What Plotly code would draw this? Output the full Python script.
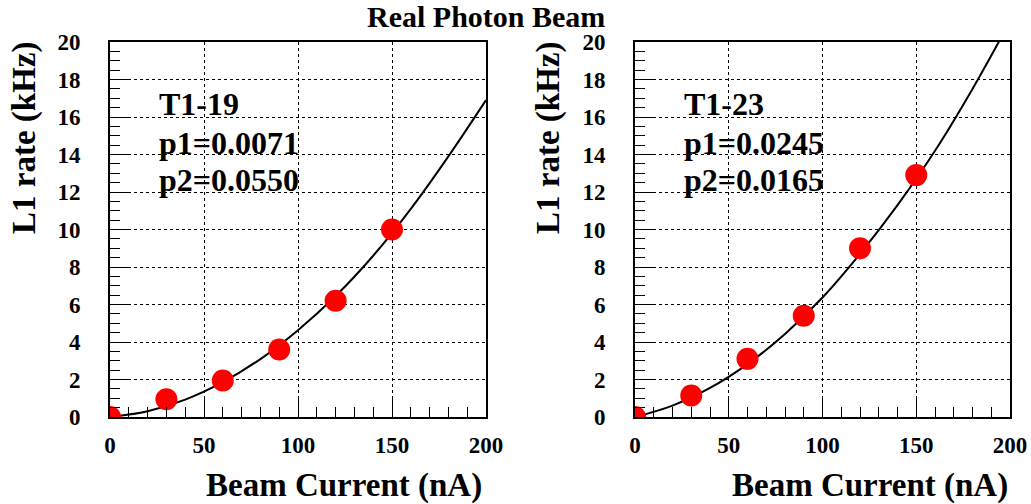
import plotly.graph_objects as go

# ---- data ----
beam_current = [0, 30, 60, 90, 120, 150]
rate_t1_19 = [0.0, 0.95, 1.95, 3.6, 6.2, 10.0]
rate_t1_23 = [0.0, 1.15, 3.1, 5.4, 9.0, 12.9]

fit_x = [0, 20, 40, 60, 80, 100, 120, 140, 160, 180, 200]
fit_t1_19 = [0, 0.31, 0.93, 1.86, 3.09, 4.63, 6.45, 8.6, 11.1, 13.9, 16.9]
fit_t1_23 = [0, 0.61, 1.55, 2.82, 4.43, 6.37, 8.7, 11.3, 14.2, 17.5, 21.1]

labels_t1_19 = ["T1-19", "p1=0.0071", "p2=0.0550"]
labels_t1_23 = ["T1-23", "p1=0.0245", "p2=0.0165"]

title_text = "Real Photon Beam"
x_title = "Beam Current (nA)"
y_title = "L1 rate (kHz)"
x_ticks = [0, 50, 100, 150, 200]
y_ticks = [0, 2, 4, 6, 8, 10, 12, 14, 16, 18, 20]

FONT = "Liberation Serif, Times New Roman, Times, serif"
W, H = 1031, 504

fig = go.Figure()

panels = [
    dict(xa="x", ya="y", y=rate_t1_19, fy=fit_t1_19, labels=labels_t1_19),
    dict(xa="x2", ya="y2", y=rate_t1_23, fy=fit_t1_23, labels=labels_t1_23),
]
for p in panels:
    fig.add_trace(go.Scatter(x=fit_x, y=p["fy"], mode="lines", xaxis=p["xa"], yaxis=p["ya"],
                             line=dict(color="black", width=2, shape="spline"),
                             showlegend=False, hoverinfo="skip"))
    fig.add_trace(go.Scatter(x=beam_current, y=p["y"], mode="markers", xaxis=p["xa"], yaxis=p["ya"],
                             marker=dict(color="#ff0000", size=22, line=dict(width=0)),
                             showlegend=False, cliponaxis=True))

def xaxis(domain, anchor):
    return dict(domain=domain, anchor=anchor, range=[0, 200], tickvals=x_ticks,
                ticks="inside", ticklen=18, tickwidth=1, tickcolor="black",
                minor=dict(dtick=10, ticks="inside", ticklen=10, tickwidth=1, tickcolor="black", showgrid=False),
                showgrid=True, gridcolor="black", griddash="dot", gridwidth=1,
                showline=True, linecolor="black", linewidth=2, mirror=True, zeroline=False,
                automargin=False,
                tickfont=dict(family=FONT, size=23, color="black", weight="bold"),
                ticklabelstandoff=6)

def yaxis(domain, anchor):
    return dict(domain=domain, anchor=anchor, range=[0, 20], tickvals=y_ticks,
                ticks="inside", ticklen=18, tickwidth=1, tickcolor="black",
                minor=dict(dtick=0.5, ticks="inside", ticklen=10, tickwidth=1, tickcolor="black", showgrid=False),
                showgrid=True, gridcolor="black", griddash="dot", gridwidth=1,
                showline=True, linecolor="black", linewidth=2, mirror=True, zeroline=False,
                automargin=False,
                tickfont=dict(family=FONT, size=23, color="black", weight="bold"),
                ticklabelstandoff=23)

yd = [1 - 417 / H, 1 - 42 / H]
fig.update_layout(
    width=W, height=H, margin=dict(l=0, r=0, t=0, b=0, autoexpand=False),
    paper_bgcolor="white", plot_bgcolor="white",
    font=dict(family=FONT),
    xaxis=xaxis([110 / W, 486 / W], "y"),
    yaxis=yaxis(yd, "x"),
    xaxis2=xaxis([635 / W, 1010 / W], "y2"),
    yaxis2=yaxis(yd, "x2"),
)

ann = []
ann.append(dict(text=title_text, x=486 / W, y=1.0, xref="paper", yref="paper",
                xanchor="center", yanchor="top", showarrow=False, borderpad=0,
                height=31, valign="middle",
                font=dict(family=FONT, size=30, color="black", weight="bold")))
for xl, xr, ytx in [(110, 484, 25), (635, 1010, 549)]:
    ann.append(dict(text=x_title, x=xr / W, y=1 - 485 / H, xref="paper", yref="paper",
                    xanchor="right", yanchor="middle", showarrow=False,
                    font=dict(family=FONT, size=33, color="black", weight="bold")))
    ann.append(dict(text=y_title, x=ytx / W, y=1 - 40 / H, xref="paper", yref="paper",
                    xanchor="center", yanchor="top", textangle=-90, showarrow=False,
                    font=dict(family=FONT, size=33, color="black", weight="bold")))
for labels, xl in [(labels_t1_19, 157), (labels_t1_23, 682)]:
    for i, t in enumerate(labels):
        yc = [104, 143, 180][i]
        ann.append(dict(text=t, x=xl / W, y=1 - yc / H, xref="paper", yref="paper",
                        xanchor="left", yanchor="middle", showarrow=False,
                        font=dict(family=FONT, size=32, color="black", weight="bold")))
fig.update_layout(annotations=ann)

fig.write_html("out.html")
